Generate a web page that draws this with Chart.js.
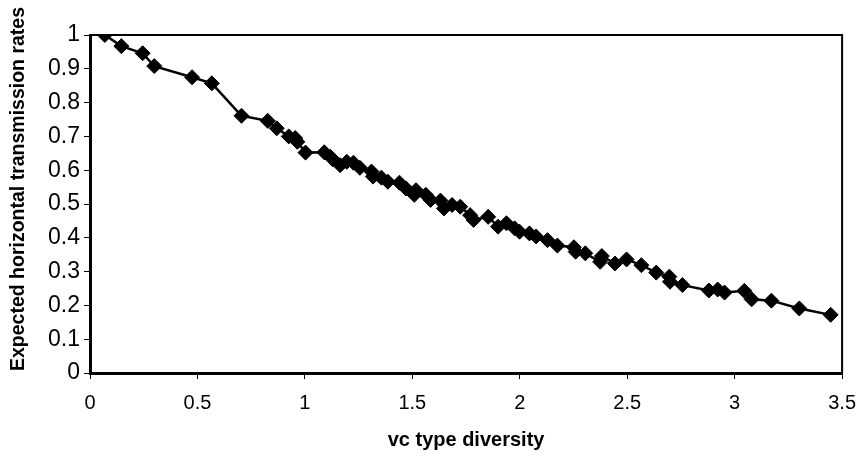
<!DOCTYPE html>
<html>
<head>
<meta charset="utf-8">
<script src="https://cdn.jsdelivr.net/npm/chart.js@4/dist/chart.umd.min.js"></script>
<style>
  html, body { margin: 0; padding: 0; background: #fff; }
  #wrap { width: 868px; height: 458px; position: relative; }
</style>
</head>
<body>
<div id="wrap"><canvas id="chart"></canvas></div>
<script>
// Datos
const xDiversity = [
  0.069, 0.146, 0.245, 0.299, 0.475, 0.567, 0.705, 0.827, 0.869, 0.925,
  0.955, 0.965, 1.003, 1.090, 1.118, 1.130, 1.164, 1.195, 1.226, 1.256,
  1.310, 1.317, 1.356, 1.386, 1.440, 1.470, 1.509, 1.517, 1.563, 1.585,
  1.631, 1.647, 1.685, 1.723, 1.769, 1.785, 1.853, 1.899, 1.938, 1.976,
  1.999, 2.045, 2.076, 2.129, 2.175, 2.252, 2.260, 2.305, 2.374, 2.382,
  2.443, 2.497, 2.566, 2.635, 2.696, 2.699, 2.757, 2.880, 2.921, 2.953,
  3.045, 3.079, 3.171, 3.301, 3.447
];
const yRates = [
  1.000, 0.967, 0.946, 0.908, 0.875, 0.857, 0.761, 0.746, 0.724, 0.700,
  0.695, 0.684, 0.652, 0.653, 0.640, 0.632, 0.615, 0.625, 0.622, 0.607,
  0.596, 0.581, 0.578, 0.566, 0.563, 0.546, 0.527, 0.541, 0.527, 0.512,
  0.510, 0.487, 0.497, 0.492, 0.467, 0.453, 0.462, 0.433, 0.443, 0.428,
  0.418, 0.413, 0.404, 0.393, 0.377, 0.372, 0.359, 0.354, 0.329, 0.346,
  0.324, 0.336, 0.319, 0.297, 0.285, 0.270, 0.260, 0.244, 0.247, 0.238,
  0.243, 0.218, 0.214, 0.191, 0.172
];
const xTitle = 'vc type diversity';
const yTitle = 'Expected horizontal transmission rates';

const FONT = "'Liberation Sans', Arial, sans-serif";

// Etiquetas sin ceros sobrantes: 1, 0.5, 1.5 ...
const fmt = value => String(Number(value.toFixed(1)));

// Marco superior y derecho + título vertical un poco más arriba que el centro
const framePlugin = {
  id: 'frame',
  afterDraw(chart) {
    const { ctx, chartArea: a } = chart;
    ctx.save();
    ctx.strokeStyle = '#000';
    ctx.lineWidth = 2;
    ctx.beginPath();
    ctx.moveTo(a.left, a.top);
    ctx.lineTo(a.right, a.top);
    ctx.lineTo(a.right, a.bottom);
    ctx.stroke();

    ctx.translate(19, 189);
    ctx.rotate(-Math.PI / 2);
    ctx.fillStyle = '#000';
    ctx.font = 'bold 19.5px ' + FONT;
    ctx.textAlign = 'center';
    ctx.textBaseline = 'middle';
    ctx.fillText(yTitle, 0, 0);
    ctx.restore();
  }
};

new Chart(document.getElementById('chart').getContext('2d'), {
  type: 'scatter',
  data: {
    datasets: [{
      data: xDiversity.map((x, i) => ({ x: x, y: yRates[i] })),
      showLine: true,
      borderColor: '#000',
      borderWidth: 2.5,
      pointStyle: 'rectRot',
      pointRadius: 7.5,
      pointBackgroundColor: '#000',
      pointBorderColor: '#000',
      pointBorderWidth: 1
    }]
  },
  options: {
    responsive: true,
    maintainAspectRatio: false,
    animation: false,
    layout: { padding: { top: 35, right: 17, left: 0, bottom: 0 } },
    plugins: { legend: { display: false }, tooltip: { enabled: false } },
    scales: {
      x: {
        type: 'linear',
        min: 0, max: 3.5,
        ticks: { stepSize: 0.5, color: '#000', padding: 12, callback: fmt,
                 font: { family: FONT, size: 20 } },
        grid: { drawOnChartArea: false, tickLength: 6, color: '#000', tickWidth: 1 },
        border: { color: '#000', width: 3 },
        title: { display: true, text: xTitle, color: '#000', padding: { top: 0, bottom: 6 },
                 font: { family: FONT, size: 20, weight: 'bold' } },
        afterFit(scale) { scale.height = 85; }
      },
      y: {
        min: 0, max: 1,
        ticks: { stepSize: 0.1, color: '#000', padding: 4, callback: fmt,
                 font: { family: FONT, size: 23 } },
        grid: { drawOnChartArea: false, tickLength: 6, color: '#000', tickWidth: 1 },
        border: { color: '#000', width: 3 },
        afterFit(scale) { scale.width = 90; }
      }
    }
  },
  plugins: [framePlugin]
});
</script>
</body>
</html>
